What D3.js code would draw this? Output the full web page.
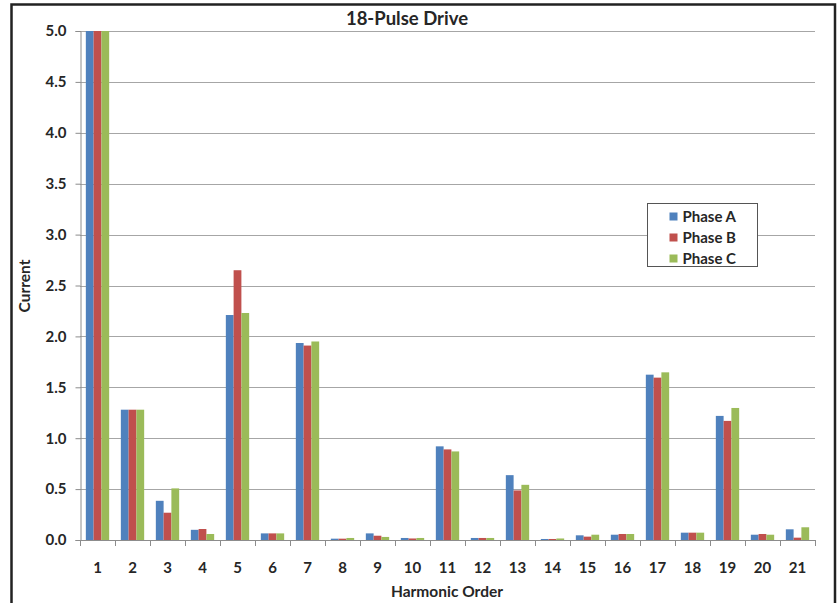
<!DOCTYPE html>
<html>
<head>
<meta charset="utf-8">
<script src="https://cdn.jsdelivr.net/npm/d3@7"></script>
<style>
  html, body { margin: 0; padding: 0; background: #fff; }
  svg { display: block; }
  text { font-family: "Lato", "Open Sans", "DejaVu Sans", sans-serif; fill: #262626; }
</style>
</head>
<body>
<svg id="chart" width="839" height="603"></svg>
<script>
// Harmonic orders on the x axis
const harmonics = ["1","2","3","4","5","6","7","8","9","10","11","12","13","14","15","16","17","18","19","20","21"];

// Harmonic current per phase
const phaseA = [5.0, 1.28, 0.385, 0.100, 2.21, 0.065, 1.935, 0.013, 0.065, 0.020, 0.92, 0.020, 0.637, 0.010, 0.046, 0.052, 1.624, 0.072, 1.219, 0.052, 0.105];
const phaseB = [5.0, 1.28, 0.268, 0.108, 2.65, 0.065, 1.910, 0.013, 0.042, 0.015, 0.89, 0.020, 0.487, 0.010, 0.033, 0.059, 1.595, 0.072, 1.170, 0.059, 0.023];
const phaseC = [5.0, 1.28, 0.507, 0.059, 2.23, 0.065, 1.950, 0.020, 0.030, 0.020, 0.87, 0.020, 0.542, 0.015, 0.052, 0.059, 1.647, 0.072, 1.297, 0.052, 0.125];

const seriesNames = ["Phase A", "Phase B", "Phase C"];
const seriesColors = ["#4F81BD", "#C0504D", "#9BBB59"];
const yTicks = [0, 0.5, 1.0, 1.5, 2.0, 2.5, 3.0, 3.5, 4.0, 4.5, 5.0];

const series = [phaseA, phaseB, phaseC];

const svg = d3.select("#chart");
const W = 839, H = 603;

// outer frame
svg.append("rect").attr("x", 0).attr("y", 0).attr("width", W).attr("height", H).attr("fill", "#fff");
svg.append("path")
  .attr("d", "M11.5,610 L11.5,4.5 L835,4.5 L835,610")
  .attr("fill", "none").attr("stroke", "#222").attr("stroke-width", 2.5);

const plot = { left: 80, right: 815, top: 31, bottom: 540 };

const x = d3.scaleBand().domain(harmonics).range([plot.left, plot.right]).paddingInner(1.5 / 4.5).paddingOuter(0.75 / 4.5);
const xs = d3.scaleBand().domain(d3.range(series.length)).range([0, x.bandwidth()]);
const y = d3.scaleLinear().domain([0, 5]).range([plot.bottom, plot.top]);

// gridlines
svg.append("g").selectAll("line").data(yTicks.filter(t => t > 0)).join("line")
  .attr("x1", plot.left).attr("x2", plot.right)
  .attr("y1", d => Math.round(y(d)) + 0.5).attr("y2", d => Math.round(y(d)) + 0.5)
  .attr("stroke", "#a6a6a6").attr("stroke-width", 1);

// bars
const groups = svg.append("g").selectAll("g").data(harmonics).join("g")
  .attr("transform", d => `translate(${x(d)},0)`);
groups.selectAll("rect")
  .data((d, i) => series.map((s, k) => ({ k, v: s[i] })))
  .join("rect")
  .attr("x", d => xs(d.k))
  .attr("width", xs.bandwidth())
  .attr("y", d => y(d.v))
  .attr("height", d => y(0) - y(d.v))
  .attr("fill", d => seriesColors[d.k]);

// y axis
const yAxis = d3.axisLeft(y).tickValues(yTicks).tickFormat(d3.format(".1f")).tickSizeOuter(0).tickSize(5).tickPadding(9);
const yg = svg.append("g").attr("transform", `translate(${plot.left + 0.5},0)`).call(yAxis);
yg.select(".domain").attr("stroke", "#8c8c8c");
yg.selectAll(".tick line").attr("stroke", "#8c8c8c");
yg.selectAll(".tick text").attr("font-size", 15).attr("font-weight", "bold")
  .style("font-family", "Lato, 'Open Sans', sans-serif").attr("fill", "#262626");

// x axis: baseline plus boundary ticks between categories
const xg = svg.append("g");
xg.append("line").attr("x1", plot.left).attr("x2", plot.right)
  .attr("y1", plot.bottom + 0.5).attr("y2", plot.bottom + 0.5).attr("stroke", "#8c8c8c");
const bounds = d3.range(harmonics.length + 1).map(i => plot.left + i * (plot.right - plot.left) / harmonics.length);
xg.selectAll("line.b").data(bounds).join("line").attr("class", "b")
  .attr("x1", d => Math.round(d) + 0.5).attr("x2", d => Math.round(d) + 0.5)
  .attr("y1", plot.bottom).attr("y2", plot.bottom + 6).attr("stroke", "#8c8c8c");
xg.selectAll("text").data(harmonics).join("text")
  .attr("x", d => x(d) + x.bandwidth() / 2)
  .attr("y", 573)
  .attr("text-anchor", "middle")
  .attr("font-size", 15).attr("font-weight", "bold")
  .text(d => d);

// title and axis titles
svg.append("text").attr("x", 407).attr("y", 25).attr("text-anchor", "middle")
  .attr("font-size", 18.5).attr("font-weight", "bold").text("18-Pulse Drive");
svg.append("text").attr("transform", "translate(30,286) rotate(-90)").attr("text-anchor", "middle")
  .attr("font-size", 15.5).attr("font-weight", "bold").text("Current");
svg.append("text").attr("x", 447).attr("y", 597).attr("text-anchor", "middle")
  .attr("font-size", 15.5).attr("font-weight", "bold").text("Harmonic Order");

// legend
const lg = svg.append("g").attr("transform", "translate(647.5,203.5)");
lg.append("rect").attr("width", 110).attr("height", 63).attr("fill", "#fff").attr("stroke", "#555").attr("stroke-width", 1);
const items = lg.selectAll("g").data(seriesNames).join("g")
  .attr("transform", (d, i) => `translate(22,${9 + i * 21})`);
items.append("rect").attr("width", 8).attr("height", 8).attr("y", 0).attr("fill", (d, i) => seriesColors[i]);
items.append("text").attr("x", 13).attr("y", 9.5).attr("font-size", 15).attr("font-weight", "bold").text(d => d);
</script>
</body>
</html>
